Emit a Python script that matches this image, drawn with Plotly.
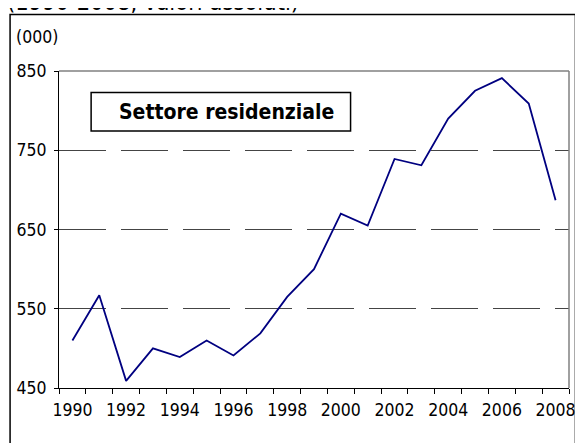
import plotly.graph_objects as go

years = list(range(1990, 2009))
values = [510, 567, 459, 500, 489, 510, 491, 519, 565, 600, 670, 655, 739, 731, 790, 825, 841, 809, 687]
y_ticks = [450, 550, 650, 750, 850]
x_label_years = list(range(1990, 2009, 2))

FONT = "DejaVu Sans Condensed"
OFF = 8  # page offset of the figure inside the browser window
W, H = 583 - OFF, 443 - OFF
L, R, T, B = 59 - OFF, 8, 71 - OFF, 55
pw, ph = W - L - R, H - T - B

def px_x(p):
    return (p - OFF - L) / pw

def px_y(p):
    return 1 - (p - OFF - T) / ph

fig = go.Figure()
fig.add_trace(go.Scatter(
    x=years, y=values, mode="lines",
    line=dict(color="#000080", width=1.8),
    showlegend=False, hoverinfo="x+y",
))

fig.update_layout(
    width=W, height=H,
    margin=dict(l=L, r=R, t=T, b=B),
    paper_bgcolor="white", plot_bgcolor="white",
    font=dict(family=FONT, size=17.5, color="black"),
    xaxis=dict(
        range=[years[0] - 0.5, years[-1] + 0.5],
        tickvals=x_label_years, ticktext=[str(y) for y in x_label_years],
        ticks="", showgrid=False, zeroline=False,
        showline=True, linecolor="black", linewidth=1,
        tickfont=dict(family=FONT, size=17.5),
        ticklabelstandoff=6,
        minor=dict(tickvals=[y - 0.5 for y in years] + [years[-1] + 0.5],
                   ticks="outside", ticklen=5, tickcolor="black", showgrid=False),
        fixedrange=True,
    ),
    yaxis=dict(
        range=[450, 850], tickvals=y_ticks,
        ticks="outside", ticklen=4, tickcolor="black",
        showline=True, linecolor="black", linewidth=1,
        showgrid=True, gridcolor="#444444", gridwidth=1, griddash="47px,15px",
        zeroline=False,
        tickfont=dict(family=FONT, size=17.5),
        ticklabelstandoff=4,
        fixedrange=True,
    ),
    shapes=[
        dict(type="rect", xref="paper", yref="paper",
             x0=px_x(9.5), x1=px_x(581.5), y0=px_y(470), y1=px_y(14.5),
             line=dict(color="black", width=1.5), fillcolor="rgba(0,0,0,0)", layer="below"),
        dict(type="line", xref="paper", yref="paper", x0=0, x1=1, y0=1, y1=1,
             line=dict(color="#808080", width=1.5)),
        dict(type="line", xref="paper", yref="paper", x0=1, x1=1, y0=0, y1=1,
             line=dict(color="#808080", width=1.5)),
        dict(type="rect", xref="paper", yref="paper",
             x0=px_x(91.5), x1=px_x(354), y0=px_y(131), y1=px_y(92.5),
             line=dict(color="black", width=1.5), fillcolor="white"),
    ],
    annotations=[
        dict(text="<b>Settore residenziale</b>", xref="paper", yref="paper",
             x=px_x(228), y=px_y(112), xanchor="center", yanchor="middle",
             showarrow=False, font=dict(family=FONT, size=21, color="black")),
        dict(text="(000)", xref="paper", yref="paper",
             x=px_x(13), y=px_y(37), xanchor="left", yanchor="middle",
             showarrow=False, font=dict(family=FONT, size=17.5, color="black")),
        dict(text="(1990-2008, valori assoluti)", xref="paper", yref="paper",
             x=px_x(4), y=px_y(18), xanchor="left", yanchor="bottom",
             showarrow=False, font=dict(family=FONT, size=23.5, color="black")),
    ],
)

fig.write_html("out.html")
